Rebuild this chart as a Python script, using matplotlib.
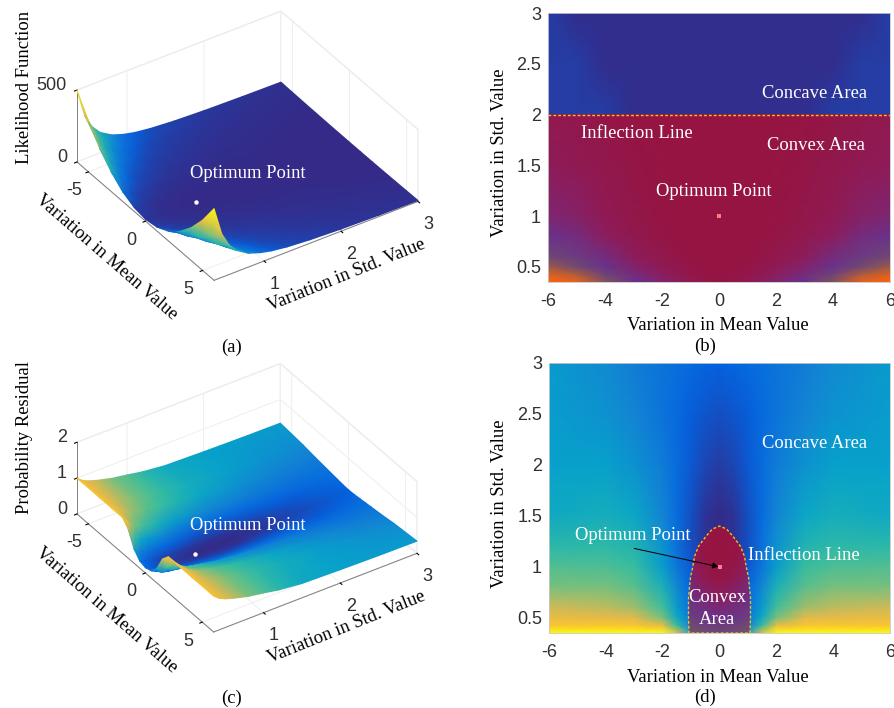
#!/usr/bin/env python3
"""Likelihood function and probability residual surfaces with their top views"""

import numpy as np
import matplotlib
matplotlib.use('Agg')
import matplotlib.pyplot as plt
from matplotlib.colors import LinearSegmentedColormap, FuncNorm
from matplotlib.patches import Polygon
from mpl_toolkits.mplot3d import proj3d

matplotlib.rcParams['axes.unicode_minus'] = False

SERIF = 'Liberation Serif'
SANS = 'Liberation Sans'

# likelihood surface (a), mu >= 0 half, the picture is symmetric in mu
lik_mu = [0, 1, 2, 3, 4, 5, 6]
lik_std = [3, 2.5, 2, 1.6, 1.3, 1.1, 0.95, 0.8, 0.65, 0.55, 0.45, 0.35]
lik_z = [
    [0.2, 0.4, 0.9, 1.8, 3.1, 4.8, 6.8],
    [0.3, 0.5, 1.3, 2.6, 4.5, 6.9, 9.8],
    [0.4, 0.8, 2.1, 4.1, 7, 10.7, 15.3],
    [0.6, 1.3, 3.2, 6.5, 11, 17, 24],
    [1, 2, 4.9, 9.8, 16.6, 25, 36],
    [1.4, 2.7, 6.8, 13.6, 23, 35, 50],
    [1.8, 3.7, 9.1, 18, 31, 48, 68],
    [2.6, 5.2, 13, 26, 44, 67, 95],
    [3.9, 7.8, 20, 39, 66, 102, 144],
    [5.5, 11, 27, 55, 93, 142, 202],
    [8, 16, 41, 82, 139, 212, 302],
    [13, 27, 67, 135, 229, 350, 498],
]
# how surface height maps onto the colour scale
lik_breaks = [0, 40, 135, 350, 500]
lik_colour = [0, 0.08, 0.42, 0.85, 1]

# residual surface (c), also the colour of the concave area in (d)
res_mu = [0, 0.5, 1, 1.5, 2, 3, 4, 6]
res_std = [3, 2.5, 2, 1.5, 1.2, 1, 0.8, 0.6, 0.5, 0.42, 0.35]
res_z = [
    [0.12, 0.13, 0.15, 0.17, 0.19, 0.23, 0.28, 0.34],
    [0.08, 0.09, 0.11, 0.15, 0.19, 0.26, 0.31, 0.35],
    [0.04, 0.06, 0.10, 0.16, 0.22, 0.31, 0.36, 0.37],
    [0.00, 0.02, 0.08, 0.16, 0.26, 0.39, 0.42, 0.40],
    [0.00, 0.02, 0.08, 0.18, 0.31, 0.45, 0.48, 0.47],
    [0.00, 0.03, 0.10, 0.20, 0.35, 0.50, 0.54, 0.55],
    [0.02, 0.05, 0.13, 0.27, 0.43, 0.57, 0.62, 0.62],
    [0.05, 0.07, 0.17, 0.34, 0.52, 0.67, 0.71, 0.73],
    [0.08, 0.10, 0.20, 0.40, 0.62, 0.76, 0.78, 0.80],
    [0.11, 0.13, 0.24, 0.50, 0.80, 0.88, 0.88, 0.88],
    [0.15, 0.20, 0.40, 0.80, 1.00, 1.00, 1.00, 1.00],
]
res_breaks = [0, 0.7, 1, 2]
res_colour = [0, 0.7, 0.875, 1]

# (b) concave part, above the inflection line
conc_mu = [0, 1, 2, 3, 4, 5, 6]
conc_std = [3, 2.5, 2]
conc_val = [
    [0.01, 0.01, 0.01, 0.01, 0.01, 0.01, 0.04],
    [0.01, 0.01, 0.01, 0.01, 0.01, 0.04, 0.04],
    [0.01, 0.01, 0.01, 0.01, 0.04, 0.04, 0.04],
]

# (b) convex part, below the inflection line
conv_mu = [0, 1, 2, 3, 4, 5, 6]
conv_std = [2, 1.5, 1, 0.8, 0.6, 0.5, 0.42, 0.35]
conv_val = [
    [0.00, 0.00, 0.00, 0.02, 0.05, 0.10, 0.12],
    [0.00, 0.00, 0.02, 0.05, 0.10, 0.15, 0.20],
    [0.00, 0.00, 0.03, 0.08, 0.15, 0.30, 0.35],
    [0.00, 0.01, 0.05, 0.12, 0.25, 0.42, 0.50],
    [0.00, 0.03, 0.10, 0.22, 0.42, 0.55, 0.62],
    [0.00, 0.05, 0.17, 0.32, 0.50, 0.64, 0.78],
    [0.02, 0.08, 0.25, 0.42, 0.60, 0.82, 0.92],
    [0.03, 0.12, 0.35, 0.50, 0.72, 0.95, 1.00],
]

# (d) convex part, inside the inflection line
inner_mu = [0, 0.5, 1.1]
inner_std = [1.4, 1.1, 0.9, 0.7, 0.5, 0.35]
inner_val = [
    [0.00, 0.05, 0.15],
    [0.00, 0.03, 0.20],
    [0.02, 0.12, 0.35],
    [0.25, 0.35, 0.48],
    [0.48, 0.52, 0.58],
    [0.62, 0.65, 0.70],
]

# inflection line in (d), mu >= 0 half
curve_mu = [1.07, 1.09, 1.09, 1.02, 0.94, 0.88, 0.74, 0.47, 0.25, 0.0]
curve_std = [0.35, 0.5, 0.7, 0.9, 1.0, 1.1, 1.2, 1.3, 1.37, 1.4]

opt_mu = 0
opt_std = 1

mean_ticks = [-6, -4, -2, 0, 2, 4, 6]
std_ticks = [0.5, 1, 1.5, 2, 2.5, 3]
std_ticklabels = ['0.5', '1', '1.5', '2', '2.5', '3']

parula = LinearSegmentedColormap.from_list('parula', [
    (0.00, (53/255, 42/255, 135/255)),
    (0.12, (3/255, 99/255, 225/255)),
    (0.25, (20/255, 130/255, 212/255)),
    (0.375, (6/255, 164/255, 202/255)),
    (0.50, (54/255, 189/255, 160/255)),
    (0.625, (124/255, 191/255, 123/255)),
    (0.75, (222/255, 185/255, 80/255)),
    (0.875, (250/255, 195/255, 50/255)),
    (1.00, (249/255, 251/255, 14/255)),
])
convex_map = LinearSegmentedColormap.from_list('convex', [
    (0.00, (150/255, 20/255, 65/255)),
    (0.25, (140/255, 30/255, 95/255)),
    (0.50, (105/255, 50/255, 140/255)),
    (0.70, (115/255, 85/255, 100/255)),
    (0.85, (190/255, 95/255, 50/255)),
    (1.00, (255/255, 100/255, 15/255)),
])


def mirror_axis(half):
    half = np.asarray(half, dtype=float)
    return np.hstack([-half[:0:-1], half])


def mirror_table(half):
    half = np.asarray(half, dtype=float)
    return np.hstack([half[:, :0:-1], half])


def piecewise_norm(breaks, colour):
    forward = lambda v: np.interp(v, breaks, colour)
    inverse = lambda c: np.interp(c, colour, breaks)
    return FuncNorm((forward, inverse), vmin=breaks[0], vmax=breaks[-1])


def project(ax, x, y, z):
    """Pixel position (origin top left) of points in a 3D axes"""
    xs, ys, _ = proj3d.proj_transform(np.ravel(x), np.ravel(y), np.ravel(z), ax.get_proj())
    pix = ax.transData.transform(np.c_[xs, ys])
    return pix[:, 0], FIG_H - pix[:, 1]


def make_box(fig, xlim, ylim, zlim, zticks, corner_left, corner_right):
    ax = fig.add_axes([0.2, 0.2, 0.5, 0.5], projection='3d')
    ax.set_proj_type('ortho')
    ax.view_init(elev=35.3, azim=-33.8)
    ax.set_box_aspect((246, 245, 88))
    ax.set_xlim(*xlim, view_margin=0)
    ax.set_ylim(*ylim, view_margin=0)
    ax.set_zlim(*zlim, view_margin=0)
    ax.set_xticks([-5, 0, 5])
    ax.set_yticks([1, 2, 3])
    ax.set_zticks(zticks)
    ax.set_zticklabels([])
    ax.patch.set_alpha(0)
    for axis in (ax.xaxis, ax.yaxis, ax.zaxis):
        axis.set_pane_color((1, 1, 1, 1))
        axis.pane.set_edgecolor('#ececec')
        axis.line.set_color('#808080')
        axis.line.set_linewidth(0.7)
        axis._axinfo['grid']['color'] = '#eeeeee'
        axis._axinfo['grid']['linewidth'] = 0.7
        axis._axinfo['tick']['outward_factor'] = 0
        axis._axinfo['tick']['inward_factor'] = 0.15
        axis._axinfo['tick']['color'] = '#808080'
        for lab in axis.get_ticklabels():
            lab.set_fontfamily(SANS)
            lab.set_fontsize(13)
            lab.set_color('#303030')
    ax.tick_params(axis='x', pad=1)
    ax.tick_params(axis='y', pad=2)
    ax.zaxis.set_ticks_position('lower')

    # fit the axes so the floor corners land on the wanted pixels
    size = 400.0
    left, bottom = 200.0, 200.0
    for _ in range(3):
        ax.set_position([left / FIG_W, bottom / FIG_H, size / FIG_W, size / FIG_H])
        ax.apply_aspect()
        px, py = project(ax, [xlim[0]], [ylim[0]], [zlim[0]])
        px2, _ = project(ax, [xlim[1]], [ylim[1]], [zlim[0]])
        ratio = (corner_right[0] - corner_left[0]) / (px2[0] - px[0])
        cx = left + size / 2
        cy = bottom + size / 2
        new_x = cx + (px[0] - cx) * ratio
        new_y = cy + ((FIG_H - py[0]) - cy) * ratio
        cx += corner_left[0] - new_x
        cy += (FIG_H - corner_left[1]) - new_y
        size *= ratio
        left, bottom = cx - size / 2, cy - size / 2
    ax.set_position([left / FIG_W, bottom / FIG_H, size / FIG_W, size / FIG_H])
    ax.apply_aspect()
    return ax


def draw_surface(ov, ax, mu, std, z, norm):
    mm, ss = np.meshgrid(mu, std)
    px, py = project(ax, mm, ss, z)
    ov.pcolormesh(px.reshape(mm.shape), py.reshape(mm.shape), z, shading='gouraud',
                  cmap=parula, norm=norm)


def style_flat(ax):
    ax.set_xlim(-6, 6)
    ax.set_ylim(0.35, 3)
    ax.set_xticks(mean_ticks)
    ax.set_yticks(std_ticks)
    ax.set_yticklabels(std_ticklabels)
    ax.tick_params(axis='x', length=0, labelsize=13, labelcolor='#303030', pad=8)
    ax.tick_params(axis='y', length=0, labelsize=13, labelcolor='#303030', pad=5)
    for lab in ax.get_xticklabels() + ax.get_yticklabels():
        lab.set_fontfamily(SANS)
    for sp in ax.spines.values():
        sp.set_color('#c8c8c8')
        sp.set_linewidth(0.6)


def label(ov, x, y, text, color='black', rotation=0, size=13.4):
    if rotation == 0:
        y += 2
    ov.text(x, y, text, ha='center', va='center', color=color, rotation=rotation,
            rotation_mode='anchor', fontsize=size, fontfamily=SERIF)


def ztick(ov, y, text):
    ov.text(67, y, text, ha='right', va='center', color='#303030', fontsize=13, fontfamily=SANS)


FIG_W, FIG_H = 894, 708
fig = plt.figure(figsize=(FIG_W / 100, FIG_H / 100), dpi=100)

ax_a = make_box(fig, (-6, 6), (0.35, 3), (0, 500), [0, 500], (77, 162), (418, 201))
ax_c = make_box(fig, (-6, 6), (0.35, 3), (0, 2), [0, 1, 2], (77, 514), (417, 553))

# top views
ax_b = fig.add_axes([548 / FIG_W, 1 - 282 / FIG_H, 342 / FIG_W, 269 / FIG_H])
ax_d = fig.add_axes([549 / FIG_W, 1 - 633 / FIG_H, 341 / FIG_W, 270 / FIG_H])

ax_b.pcolormesh(mirror_axis(conc_mu), conc_std, mirror_table(conc_val), shading='gouraud',
                cmap=parula, vmin=0, vmax=1)
ax_b.pcolormesh(mirror_axis(conv_mu), conv_std, mirror_table(conv_val), shading='gouraud',
                cmap=convex_map, vmin=0, vmax=1)
ax_b.plot([-6, 6], [2, 2], color='#e8c030', lw=1, ls=(0, (2, 1.5)))
ax_b.plot([opt_mu], [opt_std], 's', color='#ff7a7a', ms=2.5, mew=0)
style_flat(ax_b)

ax_d.pcolormesh(mirror_axis(res_mu), res_std, mirror_table(res_z), shading='gouraud',
                cmap=parula, vmin=0, vmax=1)
inner = ax_d.pcolormesh(mirror_axis(inner_mu), inner_std, mirror_table(inner_val),
                        shading='gouraud', cmap=convex_map, vmin=0, vmax=1)
curve_x = np.r_[curve_mu, -np.array(curve_mu[-2::-1])]
curve_y = np.r_[curve_std, curve_std[-2::-1]]
clip = Polygon(np.c_[curve_x, curve_y], closed=True, transform=ax_d.transData)
inner.set_clip_path(clip)
ax_d.plot(np.r_[curve_x, curve_x[0]], np.r_[curve_y, curve_y[0]], color='#e8c030', lw=1,
          ls=(0, (2, 1.5)))
ax_d.plot([opt_mu], [opt_std], 's', color='#ff7a9a', ms=2.5, mew=0)
ax_d.annotate('', xy=(-0.03, 1.0), xytext=(-3.0, 1.18),
              arrowprops=dict(arrowstyle='-|>', color='black', lw=0.7, mutation_scale=9,
                              shrinkA=0, shrinkB=0))
style_flat(ax_d)

# pixel overlay for projected surfaces and all the labels
ov = fig.add_axes([0, 0, 1, 1])
ov.patch.set_alpha(0)
draw_surface(ov, ax_a, mirror_axis(lik_mu), lik_std, mirror_table(lik_z),
             piecewise_norm(lik_breaks, lik_colour))
draw_surface(ov, ax_c, mirror_axis(res_mu), res_std, mirror_table(res_z),
             piecewise_norm(res_breaks, res_colour))
for ax3 in (ax_a, ax_c):
    dx, dy = project(ax3, [opt_mu], [opt_std], [0])
    ov.plot(dx, dy, 'o', color='white', ms=3.2, mew=0)
ov.set_xlim(0, FIG_W)
ov.set_ylim(FIG_H, 0)
ov.axis('off')

WHITE = 'white'
ztick(ov, 85, '500')
ztick(ov, 157, '0')
label(ov, 25, 87, 'Likelihood Function', rotation=90)
label(ov, 106, 257, 'Variation in Mean Value', rotation=-41)
label(ov, 346, 275, 'Variation in Std. Value', rotation=22)
label(ov, 248, 172, 'Optimum Point', color=WHITE)
label(ov, 232, 345, '(a)')

label(ov, 718, 324, 'Variation in Mean Value')
label(ov, 500, 153, 'Variation in Std. Value', rotation=90)
label(ov, 815, 91, 'Concave Area', color=WHITE)
label(ov, 637, 132, 'Inflection Line', color=WHITE)
label(ov, 816, 144, 'Convex Area', color=WHITE)
label(ov, 714, 189, 'Optimum Point', color=WHITE)
label(ov, 705, 344, '(b)')

ztick(ov, 437, '2')
ztick(ov, 474, '1')
ztick(ov, 510, '0')
label(ov, 25, 437, 'Probability Residual', rotation=90)
label(ov, 106, 610, 'Variation in Mean Value', rotation=-41)
label(ov, 346, 627, 'Variation in Std. Value', rotation=22)
label(ov, 248, 524, 'Optimum Point', color=WHITE)
label(ov, 232, 696, '(c)')

label(ov, 718, 675, 'Variation in Mean Value')
label(ov, 500, 504, 'Variation in Std. Value', rotation=90)
label(ov, 815, 442, 'Concave Area', color=WHITE)
label(ov, 633, 534, 'Optimum Point', color=WHITE)
label(ov, 804, 553, 'Inflection Line', color=WHITE)
label(ov, 717, 595, 'Convex', color=WHITE)
label(ov, 717, 617, 'Area', color=WHITE)
label(ov, 705, 695, '(d)')

fig.savefig('out.png', dpi=100)
